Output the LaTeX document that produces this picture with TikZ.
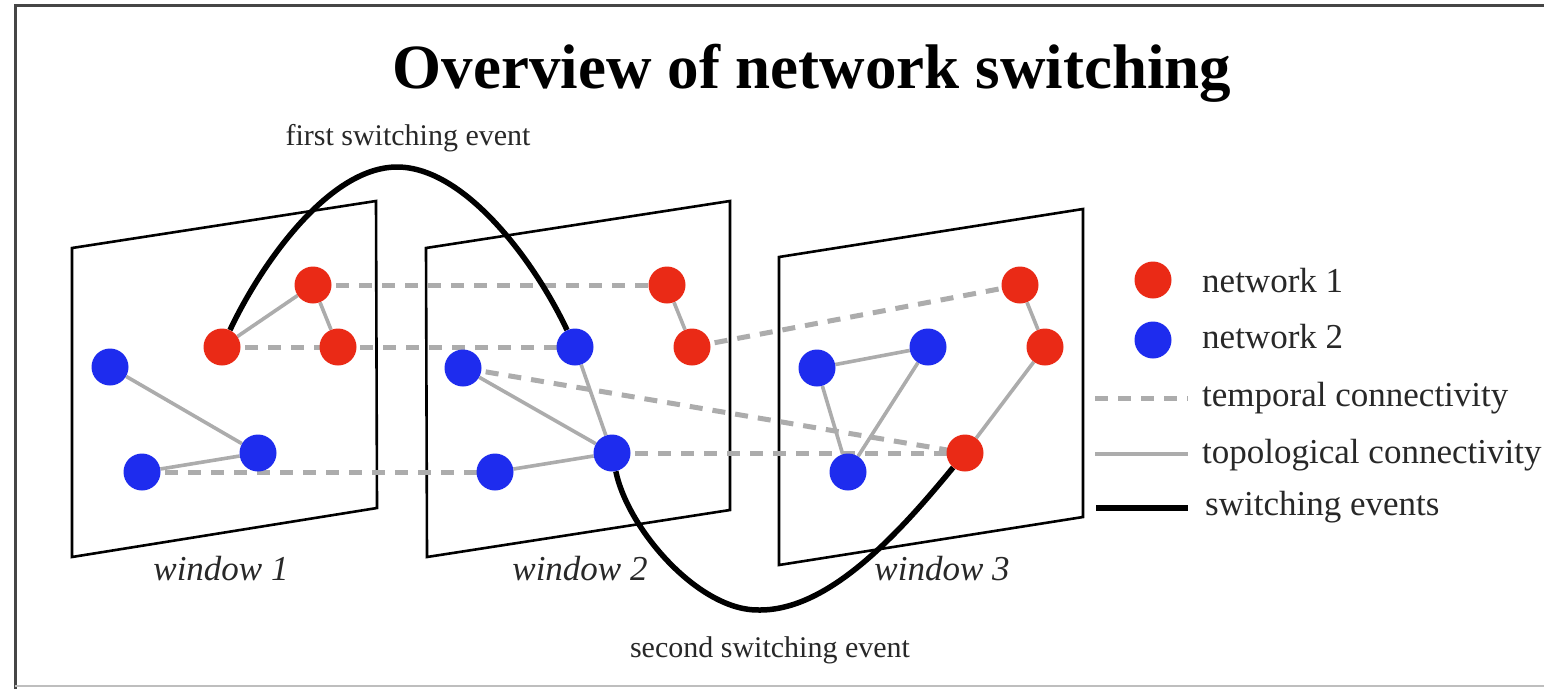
\documentclass[tikz,border=0pt]{standalone}
\usepackage{fontspec}
\setmainfont{Liberation Serif}
\pgfdeclarelayer{back}
\pgfdeclarelayer{edges}
\pgfsetlayers{back,edges,main}
\definecolor{netred}{RGB}{234,42,22}
\definecolor{netblue}{RGB}{30,44,238}
\definecolor{linkgray}{RGB}{172,172,172}
\definecolor{txt}{RGB}{40,40,40}
\tikzset{
  rnode/.style={circle,fill=netred,minimum size=37pt,inner sep=0pt},
  bnode/.style={circle,fill=netblue,minimum size=37pt,inner sep=0pt},
  panel/.style={draw=black,line width=2.6pt,line join=miter,fill=white},
  temporal/.style={draw=linkgray,line width=5pt,dash pattern=on 13pt off 10pt},
  topo/.style={draw=linkgray,line width=3.6pt},
  switchev/.style={draw=black,line width=5.5pt},
  lbl/.style={text=txt,font=\fontsize{30}{34}\selectfont,inner sep=0pt},
  wlbl/.style={text=txt,font=\fontsize{35}{40}\selectfont\itshape,inner sep=0pt,anchor=base},
  leg/.style={text=txt,font=\fontsize{35}{40}\selectfont,inner sep=0pt,anchor=base west},
}
\begin{document}
\begin{tikzpicture}[x=1pt,y=-1pt]
\useasboundingbox (0,0) rectangle (1544,689);
\begin{pgfonlayer}{back}
\fill[white] (0,0) rectangle (1544,689);
\end{pgfonlayer}
% frame
\draw[draw={rgb,255:red,70;green,70;blue,70},line width=3pt] (15,689) -- (15,5) -- (1544,5);
\draw[draw={rgb,255:red,190;green,190;blue,190},line width=2pt] (15,686) -- (1544,686);
% title
\node[font=\fontsize{63}{70}\selectfont\bfseries,inner sep=0pt,anchor=base] (title) at (812,88) {Overview of network switching};
% panels
\begin{pgfonlayer}{back}
\draw[panel] (72,248) -- (376,201) -- (377,508) -- (72,557) -- cycle;
\draw[panel] (426,248) -- (730,201) -- (730,510) -- (427,557) -- cycle;
\draw[panel] (779,257) -- (1083,209) -- (1083,517) -- (779,565) -- cycle;
\end{pgfonlayer}
% window 1 nodes
\node[rnode] (A1) at (313,285) {};
\node[rnode] (B1) at (222,347) {};
\node[rnode] (C1) at (338,347) {};
\node[bnode] (D1) at (110,367) {};
\node[bnode] (E1) at (258,453) {};
\node[bnode] (F1) at (142,472) {};
% window 2 nodes
\node[rnode] (A2) at (667,285) {};
\node[rnode] (C2) at (692,347) {};
\node[bnode] (B2) at (575,347) {};
\node[bnode] (D2) at (463,368) {};
\node[bnode] (E2) at (612,453) {};
\node[bnode] (F2) at (495,472) {};
% window 3 nodes
\node[rnode] (A3) at (1020,285) {};
\node[rnode] (C3) at (1045,347) {};
\node[bnode] (G3) at (928,347) {};
\node[bnode] (D3) at (817,368) {};
\node[bnode] (F3) at (848,472) {};
\node[rnode] (E3) at (965,453) {};
% connectors
\begin{pgfonlayer}{edges}
% temporal
\draw[temporal] (A1.center) -- (A2.center);
\draw[temporal] (B1.center) -- (B2.center);
\draw[temporal] (F1.center) -- (F2.center);
\draw[temporal] (C2.center) -- (A3.center);
\draw[temporal] (D2.center) -- (E3.center);
\draw[temporal] (E2.center) -- (E3.center);
% topological
\draw[topo] (A1) -- (B1);
\draw[topo] (A1) -- (C1);
\draw[topo] (D1) -- (E1);
\draw[topo] (F1) -- (E1);
\draw[topo] (A2) -- (C2);
\draw[topo] (D2) -- (E2);
\draw[topo] (B2) -- (E2);
\draw[topo] (F2) -- (E2);
\draw[topo] (A3) -- (C3);
\draw[topo] (C3) -- (E3);
\draw[topo] (D3) -- (G3);
\draw[topo] (D3) -- (F3);
\draw[topo] (G3) -- (F3);
% switching events
\draw[switchev] (B1) .. controls (262,262) and (330,167) .. (397,167)
   .. controls (465,167) and (535,262) .. (B2);
\draw[switchev] (E2) .. controls (628,530) and (700,612) .. (760,610)
   .. controls (830,610) and (900,532) .. (E3);
\end{pgfonlayer}
% labels
\node[lbl,anchor=base] (first) at (408,145) {first switching event};
\node[lbl,anchor=base] (second) at (770,657) {second switching event};
\node[wlbl] (w1) at (221,580) {window 1};
\node[wlbl] (w2) at (580,580) {window 2};
\node[wlbl] (w3) at (942,580) {window 3};
% legend
\node[rnode] (L1) at (1153,280) {};
\node[bnode] (L2) at (1153,340) {};
\coordinate (Lt1) at (1095,398); \coordinate (Lt2) at (1188,398);
\coordinate (Lg1) at (1095,454); \coordinate (Lg2) at (1188,454);
\coordinate (Ls1) at (1096,508); \coordinate (Ls2) at (1188,508);
\draw[temporal] (Lt1) -- (Lt2);
\draw[topo] (Lg1) -- (Lg2);
\draw[switchev] (Ls1) -- (Ls2);
\node[leg] (n1) at (1202,292) {network 1};
\node[leg] (n2) at (1202,348) {network 2};
\node[leg] (tc) at (1202,406) {temporal connectivity};
\node[leg] (tp) at (1202,463) {topological connectivity};
\node[leg] (se) at (1205,515) {switching events};
\end{tikzpicture}
\end{document}
